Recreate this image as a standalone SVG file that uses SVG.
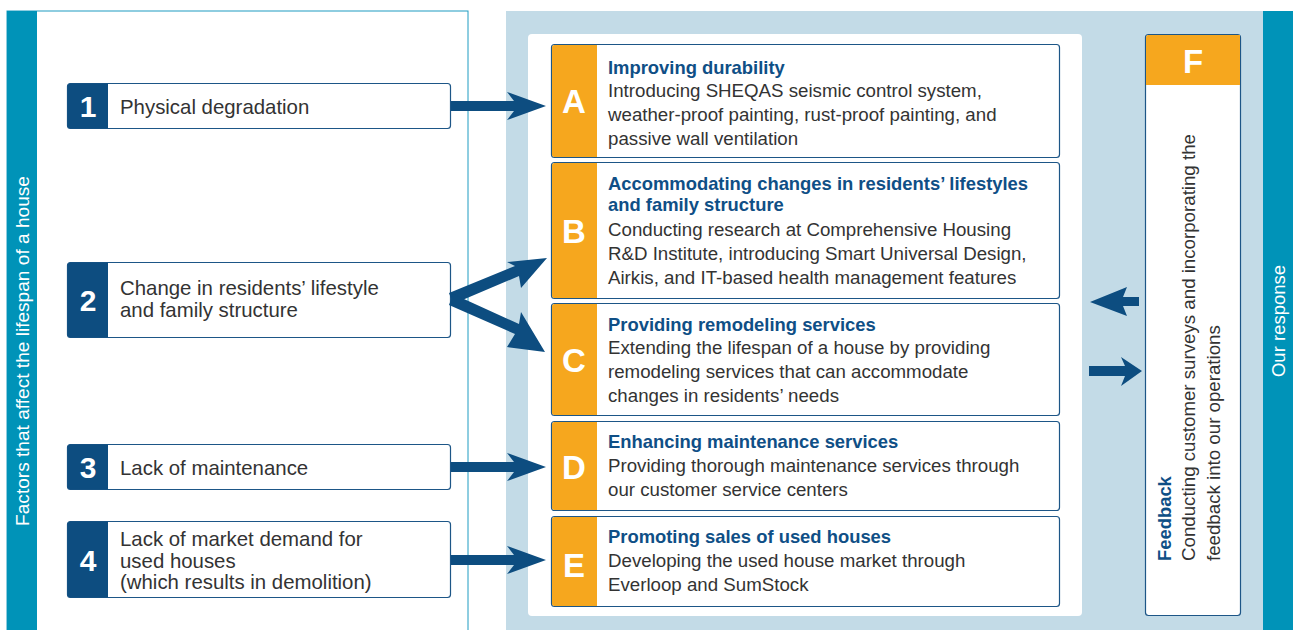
<svg xmlns="http://www.w3.org/2000/svg" width="1293" height="630" viewBox="0 0 1293 630">
<style>
.txt{font-family:"Liberation Sans",Arial,sans-serif;fill:#333333}
.lt{font-size:20.4px}
.bd{font-size:18.7px}
.ttl{font-family:"Liberation Sans",Arial,sans-serif;font-weight:bold;font-size:18.4px;fill:#0f4f86}
.num{font-family:"Liberation Sans",Arial,sans-serif;font-weight:bold;font-size:30px;fill:#ffffff;text-anchor:middle}
.let{font-family:"Liberation Sans",Arial,sans-serif;font-weight:bold;font-size:33px;fill:#ffffff;text-anchor:middle}
.box{fill:#ffffff;stroke:#1d5687;stroke-width:1.2}
.nsq{fill:#0d4d80}
.osq{fill:#f6a71e}
.arr{fill:#0d4d80}
.side{font-family:"Liberation Sans",Arial,sans-serif;fill:#ffffff;text-anchor:middle}
</style>
<rect x="0" y="0" width="1293" height="630" fill="#ffffff"/>
<g id="left-panel">
<rect x="7" y="11" width="461" height="630" fill="#ffffff" stroke="#1e9cc2" stroke-width="1"/>
<rect x="7" y="11" width="30" height="619" fill="#0093b8"/>
<text class="side" font-size="19.1" transform="translate(28.5,351) rotate(-90)">Factors that affect the lifespan of a house</text>
</g>
<g id="right-panel">
<rect x="506" y="11" width="757" height="619" fill="#c3dbe7"/>
<rect x="528" y="34" width="554" height="582" rx="4" fill="#ffffff"/>
<rect x="1263" y="11" width="30" height="619" fill="#0093b8"/>
<text class="side" font-size="18.5" transform="translate(1284.5,321) rotate(-90)">Our response</text>
</g>
<g id="node-1">
<rect class="box" x="67.5" y="83.5" width="383" height="45" rx="3"/>
<path class="nsq" d="M70.5,83.5 H108 V128.5 H70.5 Q67.5,128.5 67.5,125.5 V86.5 Q67.5,83.5 70.5,83.5 Z"/>
<text class="num" x="88" y="117">1</text>
<text class="txt lt" x="120" y="114">Physical degradation</text>
</g>
<g id="node-2">
<rect class="box" x="67.5" y="262.5" width="383" height="75" rx="3"/>
<path class="nsq" d="M70.5,262.5 H108 V337.5 H70.5 Q67.5,337.5 67.5,334.5 V265.5 Q67.5,262.5 70.5,262.5 Z"/>
<text class="num" x="88" y="311">2</text>
<text class="txt lt" x="120" y="295">Change in residents’ lifestyle</text>
<text class="txt lt" x="120" y="316.5">and family structure</text>
</g>
<g id="node-3">
<rect class="box" x="67.5" y="444.5" width="383" height="45" rx="3"/>
<path class="nsq" d="M70.5,444.5 H108 V489.5 H70.5 Q67.5,489.5 67.5,486.5 V447.5 Q67.5,444.5 70.5,444.5 Z"/>
<text class="num" x="88" y="478">3</text>
<text class="txt lt" x="120" y="475">Lack of maintenance</text>
</g>
<g id="node-4">
<rect class="box" x="67.5" y="521.5" width="383" height="76" rx="3"/>
<path class="nsq" d="M70.5,521.5 H108 V597.5 H70.5 Q67.5,597.5 67.5,594.5 V524.5 Q67.5,521.5 70.5,521.5 Z"/>
<text class="num" x="88" y="571">4</text>
<text class="txt lt" x="120" y="546">Lack of market demand for</text>
<text class="txt lt" x="120" y="567.5">used houses</text>
<text class="txt lt" x="120" y="589">(which results in demolition)</text>
</g>
<g id="node-A">
<rect class="box" x="551.5" y="44.5" width="508" height="113" rx="3"/>
<path class="osq" d="M554.5,45 H597 V157 H554.5 Q552,157 552,154.5 V47.5 Q552,45 554.5,45 Z"/>
<text class="let" x="574" y="113">A</text>
<text class="ttl" x="608" y="74">Improving durability</text>
<text class="txt bd" x="608" y="97">Introducing SHEQAS seismic control system,</text>
<text class="txt bd" x="608" y="121">weather-proof painting, rust-proof painting, and</text>
<text class="txt bd" x="608" y="145">passive wall ventilation</text>
</g>
<g id="node-B">
<rect class="box" x="551.5" y="162.5" width="508" height="136" rx="3"/>
<path class="osq" d="M554.5,163 H597 V298 H554.5 Q552,298 552,295.5 V165.5 Q552,163 554.5,163 Z"/>
<text class="let" x="574" y="243">B</text>
<text class="ttl" x="608" y="190">Accommodating changes in residents’ lifestyles</text>
<text class="ttl" x="608" y="211">and family structure</text>
<text class="txt bd" x="608" y="236">Conducting research at Comprehensive Housing</text>
<text class="txt bd" x="608" y="260">R&amp;D Institute, introducing Smart Universal Design,</text>
<text class="txt bd" x="608" y="284">Airkis, and IT-based health management features</text>
</g>
<g id="node-C">
<rect class="box" x="551.5" y="303.5" width="508" height="112" rx="3"/>
<path class="osq" d="M554.5,304 H597 V415 H554.5 Q552,415 552,412.5 V306.5 Q552,304 554.5,304 Z"/>
<text class="let" x="574" y="372">C</text>
<text class="ttl" x="608" y="331">Providing remodeling services</text>
<text class="txt bd" x="608" y="354">Extending the lifespan of a house by providing</text>
<text class="txt bd" x="608" y="378">remodeling services that can accommodate</text>
<text class="txt bd" x="608" y="402">changes in residents’ needs</text>
</g>
<g id="node-D">
<rect class="box" x="551.5" y="421.5" width="508" height="89" rx="3"/>
<path class="osq" d="M554.5,422 H597 V510 H554.5 Q552,510 552,507.5 V424.5 Q552,422 554.5,422 Z"/>
<text class="let" x="574" y="479">D</text>
<text class="ttl" x="608" y="448">Enhancing maintenance services</text>
<text class="txt bd" x="608" y="472">Providing thorough maintenance services through</text>
<text class="txt bd" x="608" y="496">our customer service centers</text>
</g>
<g id="node-E">
<rect class="box" x="551.5" y="516.5" width="508" height="90" rx="3"/>
<path class="osq" d="M554.5,517 H597 V606 H554.5 Q552,606 552,603.5 V519.5 Q552,517 554.5,517 Z"/>
<text class="let" x="574" y="577">E</text>
<text class="ttl" x="608" y="543">Promoting sales of used houses</text>
<text class="txt bd" x="608" y="567">Developing the used house market through</text>
<text class="txt bd" x="608" y="591">Everloop and SumStock</text>
</g>
<g id="node-F">
<rect class="box" x="1145.5" y="34.5" width="95" height="581" rx="3"/>
<path class="osq" d="M1148.5,35 H1240 V85 H1146 V37.5 Q1146,35 1148.5,35 Z"/>
<text class="let" x="1193" y="73">F</text>
<text class="ttl" transform="translate(1170.5,561) rotate(-90)">Feedback</text>
<text class="txt bd" font-size="19.3" transform="translate(1195,561) rotate(-90)">Conducting customer surveys and incorporating the</text>
<text class="txt bd" font-size="19.3" transform="translate(1219.5,561) rotate(-90)">feedback into our operations</text>
</g>
<g id="connectors">
<polygon class="arr" points="451,101 514,101 507,92 546,106 507,120 514,111 451,111"/>
<polygon class="arr" points="451,462 514,462 507,453 546,467 507,481 514,472 451,472"/>
<polygon class="arr" points="451,555 514,555 507,546 546,560 507,574 514,565 451,565"/>
<polygon class="arr" points="449,293 515,266 507,262 547,258 521,288 519,276 453,304"/>
<polygon class="arr" points="453,294 519,324 521,312 545,352 507,347 515,334 449,305"/>
<polygon class="arr" points="1139,297 1123,297 1127,287 1090,302 1127,316 1123,306 1139,306"/>
<polygon class="arr" points="1089,366 1125,366 1121,357 1142,371 1121,386 1125,376 1089,376"/>
</g>
</svg>
